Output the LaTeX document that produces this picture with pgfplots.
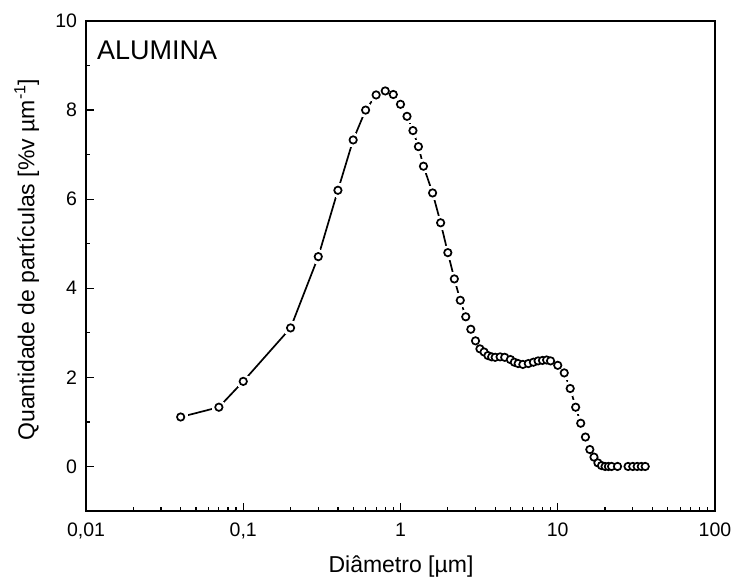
\documentclass[border=0pt]{standalone}
\usepackage{fontspec}
\setmainfont{Liberation Sans}
\usepackage{pgfplots}
\usepackage{pgfplotstable}
\pgfplotsset{compat=1.18}
\pgfplotstableread{
x y
0.04 1.11
0.07 1.33
0.1 1.91
0.2 3.11
0.3 4.71
0.4 6.20
0.5 7.33
0.6 8.00
0.7 8.34
0.8 8.43
0.9 8.35
1.0 8.13
1.1 7.86
1.2 7.54
1.3 7.18
1.4 6.74
1.6 6.14
1.8 5.47
2.0 4.80
2.2 4.21
2.4 3.73
2.6 3.36
2.8 3.08
3.0 2.82
3.2 2.64
3.4 2.57
3.6 2.49
3.8 2.46
4.0 2.45
4.3 2.46
4.6 2.45
5.0 2.40
5.3 2.34
5.6 2.31
6.0 2.29
6.5 2.31
7.0 2.34
7.5 2.37
8.0 2.38
8.5 2.39
9.0 2.37
10 2.27
11 2.10
12 1.75
13 1.33
14 0.97
15 0.66
16 0.38
17 0.21
18 0.08
19 0.02
20 0
21 0
22 0
24 0
28 0
30 0
32 0
34 0
36 0
}\datatable
\begin{document}
\begin{tikzpicture}
\useasboundingbox (-86bp,-69bp) rectangle (648bp,511bp);
\begin{axis}[
  at={(0,0)}, anchor=south west,
  scale only axis, width=629bp, height=490bp,
  xmode=log, xmin=0.01, xmax=100, ymin=-1, ymax=10,
  log basis x=10,
  xtick={0.01,0.1,1,10,100},
  xticklabels={0{,}01,0{,}1,1,10,100},
  minor xtick={0.02,0.03,0.04,0.05,0.06,0.07,0.08,0.09,0.2,0.3,0.4,0.5,0.6,0.7,0.8,0.9,2,3,4,5,6,7,8,9,20,30,40,50,60,70,80,90},
  ytick={0,2,4,6,8,10},
  yticklabels={0,2,4,6,8,10},
  minor ytick={-1,1,3,5,7,9},
  tick align=inside, xtick pos=lower, ytick pos=left,
  major tick length=8bp, minor tick length=4.5bp,
  axis line style={line width=1.4bp},
  every tick/.style={black, line width=1.2bp},
  tick label style={font=\fontsize{19.5bp}{21bp}\selectfont},
  xticklabel style={yshift=-8.5bp},
  yticklabel style={xshift=-5.5bp},
  xlabel={Diâmetro [µm]},
  ylabel={Quantidade de partículas [\%v µm\textsuperscript{-1}]},
  label style={font=\fontsize{23bp}{25bp}\selectfont},
  xlabel style={at={(axis description cs:0.5008,-0.1245)}, anchor=base},
  ylabel style={at={(axis description cs:-0.082,0.513)}, anchor=base, rotate=0},
  clip=false,
]
\addplot[black, line width=1.7bp, mark=none] table[x=x,y=y] {\datatable};
\addplot[white, only marks, mark=*, mark size=7bp, mark options={draw=white, fill=white, line width=0pt}] table[x=x,y=y] {\datatable};
\addplot[black, only marks, mark=*, mark size=3.7bp, mark options={draw=black, fill=white, line width=1.7bp}] table[x=x,y=y] {\datatable};
\node[anchor=base west, font=\fontsize{27bp}{29bp}\selectfont, inner sep=0pt] at ([xshift=11bp,yshift=-39bp]rel axis cs:0,1) {ALUMINA};
\end{axis}
\end{tikzpicture}
\end{document}
